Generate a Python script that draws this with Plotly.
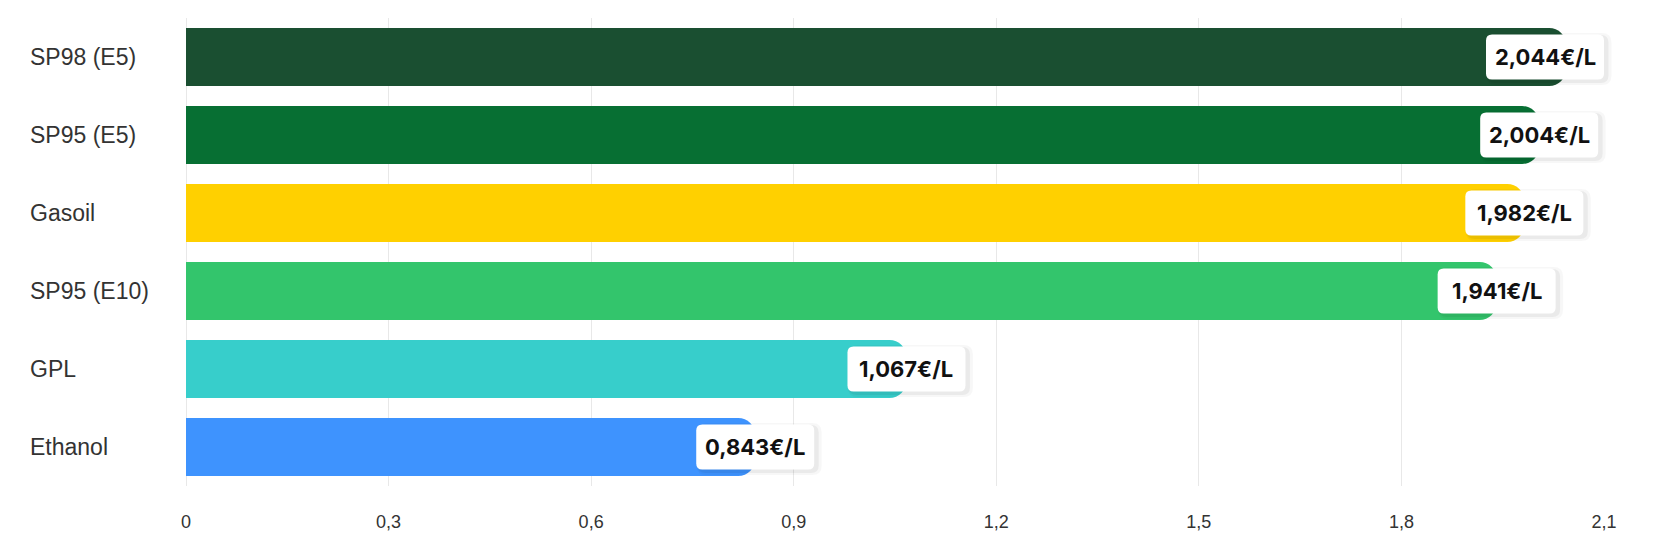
import plotly.graph_objects as go

categories = ["SP98 (E5)", "SP95 (E5)", "Gasoil", "SP95 (E10)", "GPL", "Ethanol"]
prices = [2.044, 2.004, 1.982, 1.941, 1.067, 0.843]
colors = ["#1a4f31", "#076f33", "#ffd000", "#33c56c", "#37cecb", "#3e93fe"]
x_max = 2.1
x_dtick = 0.3

W_PX = 1666
H_PX = 550
ML, MR, MT, MB = 186, 62, 18, 64
plot_w = W_PX - ML - MR

fig = go.Figure()
fig.add_trace(go.Bar(
    y=categories, x=prices, orientation="h",
    marker=dict(color=colors, line=dict(width=0)),
    hoverinfo="skip",
))

# label boxes
BW, BH, R = 118, 45, 6
def rrect(w, h, r, dx=0, dy=0):
    x0, x1 = -w / 2 + dx, w / 2 + dx
    y0, y1 = -h / 2 + dy, h / 2 + dy
    return (f"M {x0+r},{y0} L {x1-r},{y0} Q {x1},{y0} {x1},{y0+r} "
            f"L {x1},{y1-r} Q {x1},{y1} {x1-r},{y1} L {x0+r},{y1} "
            f"Q {x0},{y1} {x0},{y1-r} L {x0},{y0+r} Q {x0},{y0} {x0+r},{y0} Z")

px_per_unit = plot_w / x_max
half_w_units = (BW / 2) / px_per_unit
shapes = []
annotations = []
for i, (cat, v) in enumerate(zip(categories, prices)):
    cx = min(v, x_max - half_w_units)
    cx_paper = cx / x_max
    for (ex, ox, oy, a) in [(7, 4, -2, 0.03), (3, 3, -2, 0.05)]:
        shapes.append(dict(
            type="path", xref="paper", yref="y", xsizemode="pixel", ysizemode="pixel",
            xanchor=cx_paper, yanchor=i, path=rrect(BW + ex, BH + ex, R + ex / 2, ox, oy),
            fillcolor=f"rgba(0,0,0,{a})", line=dict(width=0), layer="above"))
    shapes.append(dict(
        type="path", xref="paper", yref="y", xsizemode="pixel", ysizemode="pixel",
        xanchor=cx_paper, yanchor=i, path=rrect(BW, BH, R),
        fillcolor="#ffffff", line=dict(width=0), layer="above"))
    annotations.append(dict(
        x=cx, y=i, xref="x", yref="y", showarrow=False,
        text=f"{v:.3f}".replace(".", ",") + "€/L",
        font=dict(family="Inter", size=22, color="#111111", weight=700),
        xanchor="center", yanchor="middle"))
    annotations.append(dict(
        x=(28 - ML) / plot_w, y=i, xref="paper", yref="y", showarrow=False,
        text=cat, xanchor="left", yanchor="middle",
        font=dict(family="Liberation Sans, Arial", size=23, color="#333333")))

fig.update_layout(
    width=W_PX, height=H_PX,
    margin=dict(l=ML, r=MR, t=MT, b=MB),
    paper_bgcolor="white", plot_bgcolor="white",
    separators=", ",
    showlegend=False,
    bargap=0.256,
    barcornerradius=17,
    shapes=shapes,
    annotations=annotations,
    xaxis=dict(
        range=[0, x_max], dtick=x_dtick, tick0=0,
        showgrid=True, gridcolor="#e8e8e8", gridwidth=1,
        zeroline=True, zerolinecolor="#e8e8e8", zerolinewidth=1,
        showline=False, ticks="",
        tickfont=dict(family="Liberation Sans, Arial", size=18, color="#333333"),
        ticklabelstandoff=23, fixedrange=True,
    ),
    yaxis=dict(
        autorange="reversed", showticklabels=False, showgrid=False,
        zeroline=False, ticks="", fixedrange=True,
    ),
)

fig.write_html("out.html")
